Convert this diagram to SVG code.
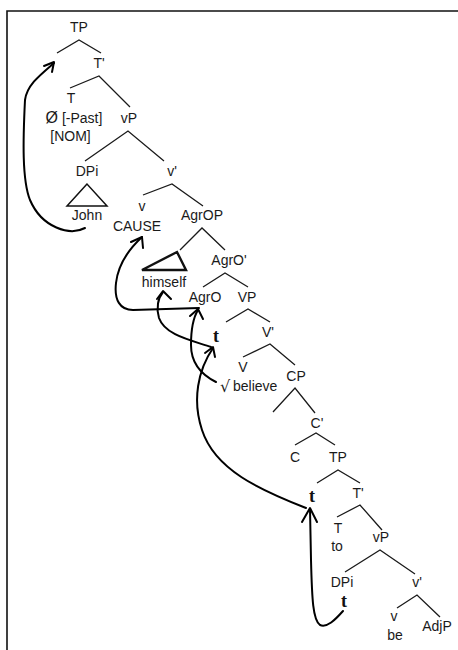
<svg xmlns="http://www.w3.org/2000/svg" width="458" height="650" viewBox="0 0 458 650">
<style>
.l{font-family:"Liberation Sans",Arial,sans-serif;font-size:14px;fill:#1a1a1a;text-anchor:middle}
.t{font-family:"Liberation Serif","Times New Roman",serif;font-size:18px;font-weight:bold;fill:#111;text-anchor:middle}
.br{fill:none;stroke:#1a1a1a;stroke-width:1.3}
.tri{fill:none;stroke:#111;stroke-width:1.5}
.ar{fill:none;stroke:#000;stroke-width:2;stroke-linecap:round;stroke-linejoin:round}
</style>
<rect width="458" height="650" fill="#fff"/>
<path d="M7,650 L7,11 L458,11" fill="none" stroke="#111" stroke-width="1.6"/>
<g id="n-TP"><text class="l" x="79" y="32">TP</text></g>
<g id="n-Tbar"><text class="l" x="99" y="68">T'</text></g>
<g id="n-T"><text class="l" x="71" y="103">T</text><text class="l" x="74" y="123"><tspan style="font-size:16px">Ø</tspan> [-Past]</text><text class="l" x="70.5" y="141">[NOM]</text></g>
<g id="n-vP"><text class="l" x="129" y="123">vP</text></g>
<g id="n-DPi"><text class="l" x="87" y="176">DPi</text><path class="tri" d="M87,184 L67,206 L107,206 Z"/><text class="l" x="87" y="220">John</text></g>
<g id="n-vbar"><text class="l" x="172" y="176">v'</text></g>
<g id="n-v"><text class="l" x="142" y="211">v</text><text class="l" x="137" y="231">CAUSE</text></g>
<g id="n-AgrOP"><text class="l" x="202" y="220">AgrOP</text></g>
<g id="n-himself"><path class="tri" style="stroke-width:2.4" d="M177,252 L142,270 L186,270 Z"/><text class="l" x="164" y="287">himself</text></g>
<g id="n-AgrObar"><text class="l" x="229" y="265">AgrO'</text></g>
<g id="n-AgrO"><text class="l" x="205" y="302">AgrO</text></g>
<g id="n-VP"><text class="l" x="247" y="302">VP</text></g>
<g id="n-t1"><text class="t" x="216" y="342">t</text></g>
<g id="n-Vbar"><text class="l" x="268" y="337">V'</text></g>
<g id="n-V"><text class="l" x="243" y="372">V</text><text class="l" x="220" y="392" style="text-anchor:start"><tspan style="font-family:'DejaVu Sans',sans-serif;font-size:16px">√</tspan><tspan x="233" y="391">believe</tspan></text></g>
<g id="n-CP"><text class="l" x="296" y="381">CP</text></g>
<g id="n-Cbar"><text class="l" x="317" y="428">C'</text></g>
<g id="n-C"><text class="l" x="295" y="462">C</text></g>
<g id="n-TP2"><text class="l" x="338" y="462">TP</text></g>
<g id="n-t2"><text class="t" x="312" y="502">t</text></g>
<g id="n-Tbar2"><text class="l" x="358" y="498">T'</text></g>
<g id="n-T2"><text class="l" x="338" y="533">T</text><text class="l" x="337" y="551">to</text></g>
<g id="n-vP2"><text class="l" x="381" y="542">vP</text></g>
<g id="n-DPi2"><text class="l" x="342" y="587">DPi</text><text class="t" x="344" y="607">t</text></g>
<g id="n-vbar2"><text class="l" x="417" y="587">v'</text></g>
<g id="n-v2"><text class="l" x="394" y="621">v</text><text class="l" x="395" y="640">be</text></g>
<g id="n-AdjP"><text class="l" x="437" y="631">AdjP</text></g>
<g id="connectors">
<path class="br" d="M57,53 L79,40 L101,53"/>
<path class="br" d="M70,88 L99,76 L130,107"/>
<path class="br" d="M85,161 L128,131 L164,161"/>
<path class="br" d="M143,195 L172,184 L203,206"/>
<path class="br" d="M180,250 L202,228 L225,250"/>
<path class="br" d="M203,287 L225,273 L248,287"/>
<path class="br" d="M226,322 L248,309 L270,322"/>
<path class="br" d="M243,357 L270,344 L295,365"/>
<path class="br" d="M273,412 L295,388 L315,413"/>
<path class="br" d="M295,445 L316,433 L335,445"/>
<path class="br" d="M317,483 L338,470 L360,483"/>
<path class="br" d="M337,517 L360,505 L382,530"/>
<path class="br" d="M345,572 L380,550 L415,574"/>
<path class="br" d="M397,608 L417,595 L440,617"/>
<path class="ar" d="M85,228 C70,236 42,228 30,200 C22,180 23,140 25,100 C27,85 40,75 54,63"/>
<path class="ar" d="M44,66 L54,62 L52,72"/>
<path class="ar" d="M199,308 L133,310 C120,310 114,300 116,283 C118,265 128,250 142,237"/>
<path class="ar" d="M131,242 L142,237 L143,248"/>
<path class="ar" d="M216,382 C200,374 191,362 191,345 C191,330 193,318 198,310"/>
<path class="ar" d="M190,316 L198,309 L203,319"/>
<path class="ar" d="M211,347 C190,340 165,335 159,318 C156,308 158,298 163,292"/>
<path class="ar" d="M157,299 L163,291 L171,299"/>
<path class="ar" d="M306,508 C260,490 215,470 202,430 C192,400 198,370 213,348"/>
<path class="ar" d="M205,353 L213,347 L215,357"/>
<path class="ar" d="M343,611 C335,620 327,628 320,625 C313,620 312,600 311,560 L310,509"/>
<path class="ar" d="M302,522 L310,508 L317,522"/>
</g>
</svg>
